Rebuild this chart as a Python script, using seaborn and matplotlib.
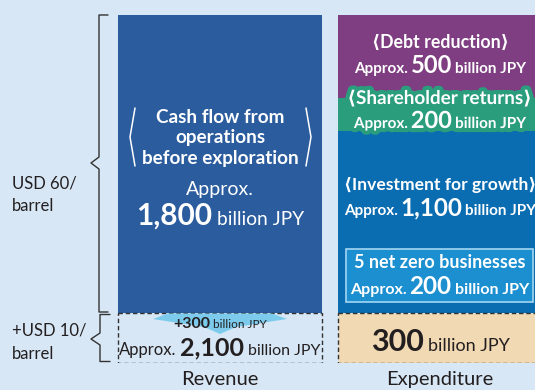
import matplotlib
matplotlib.use("Agg")
import matplotlib.pyplot as plt
import matplotlib.patheffects as pe
from matplotlib.patches import Polygon, Rectangle
from matplotlib.lines import Line2D
import seaborn as sns

# ---- data (billion JPY) ----
sides = ["Revenue", "Expenditure"]
revenue_items = ["Cash flow from operations before exploration", "Oil price upside"]
revenue_values = [1800, 300]
expenditure_items = ["Debt reduction", "Shareholder returns", "Investment for growth", "Additional"]
expenditure_values = [500, 200, 1100, 300]
net_zero_value = 200
price_labels = ["USD 60/\nbarrel", "+USD 10/\nbarrel"]

# ---- style ----
BG = "#d7e7f5"
DARK = "#231f20"
C_CF = "#2b5c9e"
C_DEBT = "#7e3e81"
C_SHARE = "#2a9d7d"
C_INV = "#0a6cb1"
C_NZ = "#1b8fcf"
C_TAN = "#f1d9b3"
C_ARROW = "#7ccbec"

sns.set_theme(style="white")
plt.rcParams["font.family"] = ["Lato", "DejaVu Sans"]

W, H = 535, 390
fig = plt.figure(figsize=(W / 100, H / 100), dpi=100)
fig.patch.set_facecolor(BG)

top_px, full_px = 15, 362.7
ax = fig.add_axes([0, 1 - full_px / H, 1, (full_px - top_px) / H])
ax.set_facecolor("none")

BAR_W = 0.927


def segment(side, start, value, color, dashed=False):
    kws = dict(linewidth=0)
    if dashed:
        kws = dict(linewidth=1.0, edgecolor="#333333", linestyle=(0, (3.2, 2.0)))
    sns.barplot(x=[side], y=[value], order=sides, bottom=start, color=color,
                saturation=1, width=BAR_W, errorbar=None, ax=ax, **kws)


# solid segments first, dashed upside boxes on top
rev_fill = [C_CF, BG]
exp_fill = [C_DEBT, C_SHARE, C_INV, C_TAN]
start = 0
for i, v in enumerate(revenue_values):
    if i < len(revenue_values) - 1:
        segment("Revenue", start, v, rev_fill[i])
    start += v
start = 0
for i, v in enumerate(expenditure_values):
    if i < len(expenditure_values) - 1:
        segment("Expenditure", start, v, exp_fill[i])
    start += v
segment("Revenue", sum(revenue_values[:-1]), revenue_values[-1], rev_fill[-1], dashed=True)
segment("Expenditure", sum(expenditure_values[:-1]), expenditure_values[-1], exp_fill[-1], dashed=True)

ax.set_xlim((0 - 220) / 220, (W - 220) / 220)
ax.set_ylim(sum(revenue_values), 0)
ax.axis("off")

renderer = fig.canvas.get_renderer()


def fx(x):
    return x / W


def fy(y):
    return 1 - y / H


def bar_center_px(side):
    return ax.transData.transform((sides.index(side), 0))[0]


def runs_line(xc, baseline, runs, color="white", effects=None, gap=4, align="center"):
    """Draw text runs of mixed size/weight on one baseline, centred at xc (pixels)."""
    texts, widths = [], []
    for s, size, weight in runs:
        t = fig.text(0, 0, s, fontsize=size, fontweight=weight, color=color,
                     ha="left", va="baseline")
        if effects:
            t.set_path_effects(effects)
        texts.append(t)
        widths.append(t.get_window_extent(renderer).width)
    total = sum(widths) + gap * (len(runs) - 1)
    x = xc - total / 2 if align == "center" else xc
    for t, w in zip(texts, widths):
        t.set_position((fx(x), fy(baseline)))
        x += w + gap


def poly(points, **kw):
    return Line2D([fx(p[0]) for p in points], [fy(p[1]) for p in points],
                  transform=fig.transFigure, **kw)


rx = bar_center_px("Revenue")
ex = bar_center_px("Expenditure")

# ---- revenue column ----
runs_line(rx, 123, [("Cash flow from", 13.6, "bold")])
runs_line(rx, 143.5, [("operations", 13.6, "bold")])
runs_line(rx, 164, [("before exploration", 13.6, "bold")])
for pts in ([(135, 108), (130, 137), (135, 166)], [(306, 108), (311, 137), (306, 166)]):
    fig.add_artist(poly(pts, color="white", lw=1.1))
runs_line(rx, 195, [("Approx.", 14, "normal")])
runs_line(rx, 225, [(f"{revenue_values[0]:,}", 21.5, "bold"), ("billion JPY", 13.8, "normal")], gap=5)

# upside arrow
arrow = Polygon([(fx(x), fy(y)) for x, y in
                 [(168, 313.5), (272, 313.5), (287, 319), (236, 327), (220, 334), (204, 327), (153, 319)]],
                closed=True, transform=fig.transFigure, facecolor=C_ARROW, edgecolor="none")
fig.add_artist(arrow)
runs_line(rx, 327.5, [(f"+{revenue_values[1]:,}", 11.5, "bold"), ("billion JPY", 8.5, "normal")],
          color=DARK, gap=3)
runs_line(rx, 355, [("Approx.", 12, "normal"), (f"{sum(revenue_values):,}", 18, "bold"),
                    ("billion JPY", 11.5, "normal")], color=DARK, gap=4)
runs_line(rx, 385, [("Revenue", 14.5, "normal")], color=DARK)

# ---- expenditure column ----
green_fx = [pe.withStroke(linewidth=6, foreground=C_SHARE)]
runs_line(ex, 48, [(f"\u27e8{expenditure_items[0]}\u27e9", 12.8, "bold")])
runs_line(ex, 73, [("Approx.", 11, "bold"), (f"{expenditure_values[0]:,}", 17, "bold"),
                   ("billion JPY", 11, "bold")], gap=3)
runs_line(ex, 104, [(f"\u27e8{expenditure_items[1]}\u27e9", 13.6, "bold")], effects=green_fx)
runs_line(ex, 128, [("Approx.", 11, "bold"), (f"{expenditure_values[1]:,}", 17, "bold"),
                    ("billion JPY", 11, "bold")], effects=green_fx, gap=3)
runs_line(ex, 190, [(f"\u27e8{expenditure_items[2]}\u27e9", 12.6, "bold")])
runs_line(ex, 215, [("Approx.", 11, "bold"), (f"{expenditure_values[2]:,}", 17.5, "bold"),
                    ("billion JPY", 11, "bold")], gap=3)

# net-zero highlight box inside the growth-investment block
x0 = ax.transData.transform((sides.index("Expenditure") - BAR_W / 2, 0))[0] + 8
x1 = ax.transData.transform((sides.index("Expenditure") + BAR_W / 2, 0))[0] - 9
fig.add_artist(Rectangle((fx(x0), fy(302)), (x1 - x0) / W, (302 - 249) / H,
                         transform=fig.transFigure, facecolor=C_NZ,
                         edgecolor="#a3d6f2", lw=1.2))
runs_line((x0 + x1) / 2, 268, [("5 net zero businesses", 13, "bold")])
runs_line((x0 + x1) / 2, 294, [("Approx.", 11.5, "bold"), (f"{net_zero_value:,}", 17.5, "bold"),
                               ("billion JPY", 11.5, "bold")], gap=3)

runs_line(ex, 351, [(f"{expenditure_values[3]:,}", 22, "bold"), ("billion JPY", 13, "normal")],
          color=DARK, gap=4)
runs_line(ex, 385, [("Expenditure", 14.5, "normal")], color=DARK)

# ---- oil price braces on the left ----
fig.add_artist(poly([(108, 15), (99, 15), (99, 157), (91, 163), (99, 169), (99, 312), (108, 312)],
                    color="#333333", lw=1.0))
fig.add_artist(poly([(110, 314.5), (100, 314.5), (100, 333), (91, 339), (100, 345), (100, 361.5), (110, 361.5)],
                    color="#333333", lw=1.0))
for label, base in zip(price_labels, [188, 336]):
    first, second = label.split("\n")
    fig.text(fx(12), fy(base), first, fontsize=12, color=DARK, ha="left", va="baseline")
    fig.text(fx(12), fy(base + 23), second, fontsize=12, color=DARK, ha="left", va="baseline")

fig.savefig("out.png", dpi=100, facecolor=BG)
